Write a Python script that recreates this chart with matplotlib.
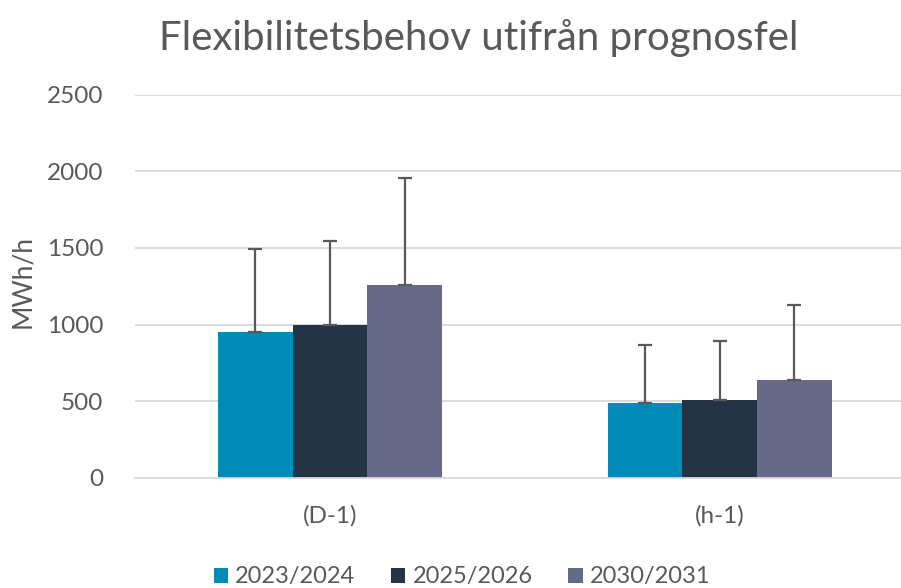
import matplotlib.pyplot as plt
import numpy as np

plt.rcParams['font.family'] = ['Lato', 'DejaVu Sans']

# data
categories = ['(D-1)', '(h-1)']
series_names = ['2023/2024', '2025/2026', '2030/2031']
values_2023 = [953, 489]
values_2025 = [995, 508]
values_2030 = [1255, 640]
# upward error (size above bar top)
err_2023 = [539, 375]
err_2025 = [549, 384]
err_2030 = [704, 487]

colors = ['#008AB6', '#253346', '#666A88']
text_col = '#595959'

W, H = 901, 588
fig = plt.figure(figsize=(W / 100, H / 100), dpi=100)
ax = fig.add_axes([135 / W, 1 - 477.7 / H, (W - 135) / W, 383 / H])

x = np.arange(len(categories))
bw = 0.1916
all_vals = [values_2023, values_2025, values_2030]
all_errs = [err_2023, err_2025, err_2030]
for i, (vals, errs) in enumerate(zip(all_vals, all_errs)):
    pos = x + (i - 1) * bw
    ax.bar(pos, vals, width=bw, color=colors[i], label=series_names[i], zorder=2)
    ax.errorbar(pos, vals, yerr=[np.zeros(len(errs)), errs], fmt='none',
                ecolor='#595959', elinewidth=1.6, capsize=5, capthick=1.6, zorder=3)

ax.set_xlim(-0.5, -0.5 + (W - 135) / 389.8)
ax.set_ylim(0, 2500)
ax.set_yticks(range(0, 2501, 500))
ax.set_xticks(x)
ax.set_xticklabels(categories)
ax.yaxis.grid(True, color='#D9D9D9', linewidth=1.3, zorder=0)
ax.set_axisbelow(True)
for s in ['top', 'right', 'left']:
    ax.spines[s].set_visible(False)
ax.spines['bottom'].set_color('#D9D9D9')
ax.spines['bottom'].set_linewidth(1.3)
ax.tick_params(axis='both', length=0, labelsize=17.5, labelcolor=text_col)
ax.tick_params(axis='y', pad=23)
ax.tick_params(axis='x', pad=20)

fig.text(23 / W, 1 - 282 / H, 'MWh/h', rotation=90, ha='center', va='center',
         fontsize=19, color=text_col)
fig.text(479 / W, 1 - 38 / H, 'Flexibilitetsbehov utifrån prognosfel',
         ha='center', va='center', fontsize=29, color=text_col)

fig.legend(loc='center', bbox_to_anchor=(462 / W, 1 - 577 / H), ncol=3,
           frameon=False, fontsize=17, handlelength=0.62, handleheight=0.62,
           handletextpad=0.3, columnspacing=1.5, labelcolor=text_col)

fig.savefig('out.png', dpi=100)
